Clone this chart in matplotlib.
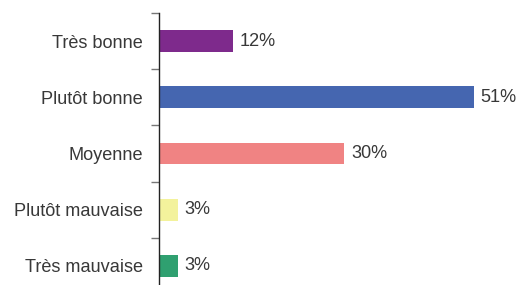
import matplotlib
matplotlib.use("Agg")
import matplotlib.pyplot as plt
from matplotlib.ticker import FixedLocator

categories = ["Très bonne", "Plutôt bonne", "Moyenne", "Plutôt mauvaise", "Très mauvaise"]
values = [12, 51, 30, 3, 3]
colors = ["#7E2A8C", "#4566B0", "#F08383", "#F3F29C", "#2FA070"]

plt.rcParams['font.family'] = ['Liberation Sans', 'DejaVu Sans']

fig = plt.figure(figsize=(5.17, 2.85), dpi=100)
ax = fig.add_axes([159/517, -9/285, 358/517, 281/285])

y = list(range(len(categories)))
ax.barh(y, values, height=0.39, color=colors)
ax.set_ylim(len(categories) - 0.5, -0.5)
ax.set_xlim(0, 58.0)

for yi, v in zip(y, values):
    ax.text(v + 1.1, yi, f"{v}%", va="center", ha="left", fontsize=13.1, color="#383838")

ax.set_yticks(y)
ax.set_yticklabels(categories, fontsize=13.1, color="#383838")
ax.tick_params(axis="y", which="major", length=0, pad=11.5)
ax.yaxis.set_minor_locator(FixedLocator([i - 0.5 for i in range(len(categories) + 1)]))
ax.tick_params(axis="y", which="minor", length=6, width=1, color="#777777")
ax.set_xticks([])
for s in ["top", "right", "bottom"]:
    ax.spines[s].set_visible(False)
ax.spines["left"].set_color("#222222")
ax.spines["left"].set_linewidth(1)

fig.savefig("out.png", dpi=100)
